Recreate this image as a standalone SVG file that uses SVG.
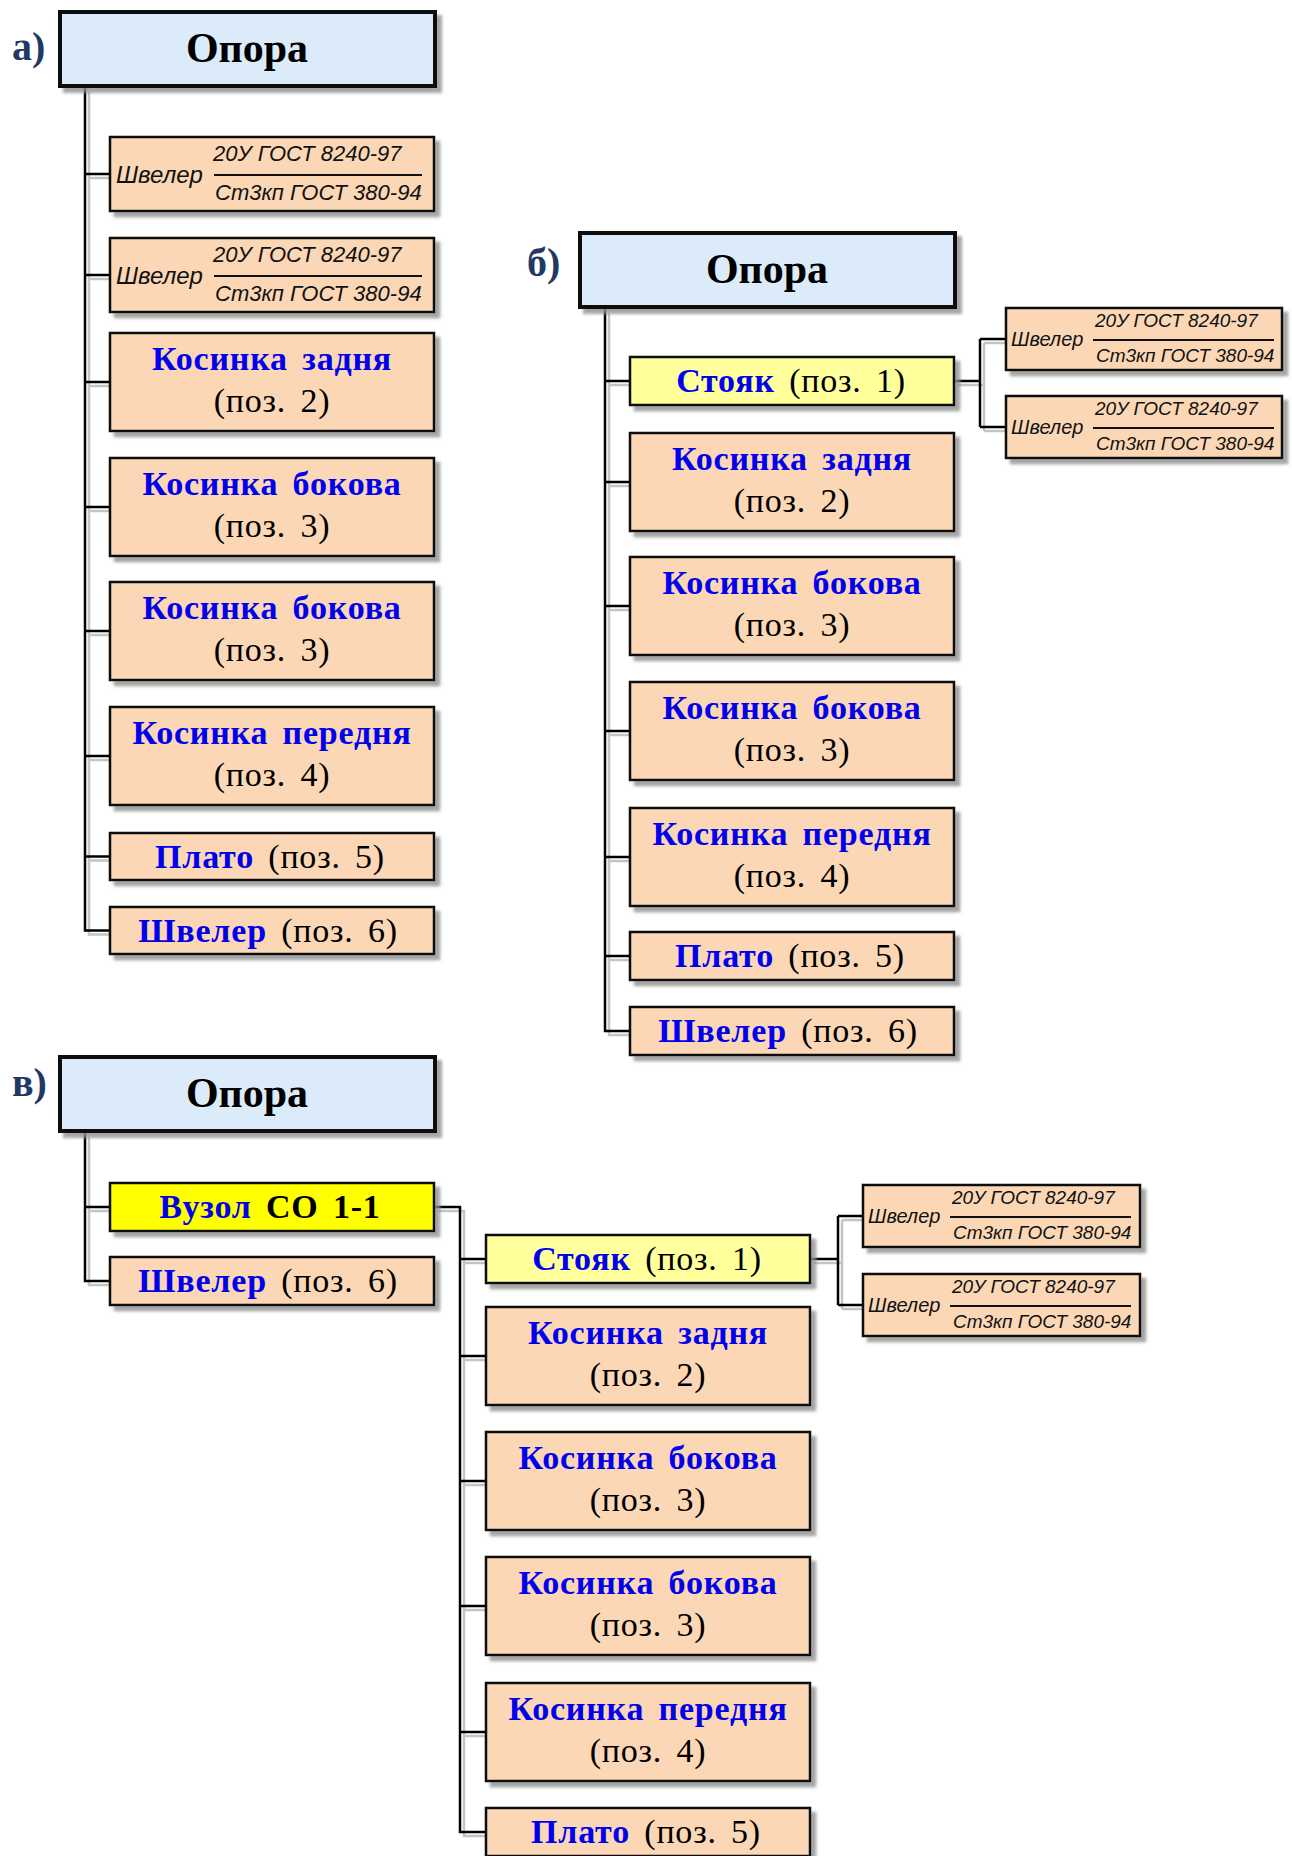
<svg xmlns="http://www.w3.org/2000/svg" xmlns:xlink="http://www.w3.org/1999/xlink" width="1292" height="1856" viewBox="0 0 1292 1856">
  <style>
    .box { stroke: #111; stroke-width: 2.5; filter: url(#sh); }
    .root { fill: #DCEBFA; stroke-width: 4; }
    .peach { fill: #FBD7B5; }
    .lyel { fill: #FFFF9C; }
    .yel { fill: #FFFF00; }
    .ttl { font-family: "Liberation Serif", "Times New Roman", serif; font-weight: bold; font-size: 42px; fill: #000; text-anchor: middle; }
    .lbl { font-family: "Liberation Serif", "Times New Roman", serif; font-weight: bold; font-size: 40px; fill: #1F3864; }
    .nm { font-family: "Liberation Serif", "Times New Roman", serif; font-size: 34px; fill: #000; text-anchor: middle; letter-spacing: 0.8px; word-spacing: 5px; }
    .b { font-weight: bold; fill: #0000EE; }
    .bk { font-weight: bold; fill: #000; }
    .fr { font-family: "Liberation Sans", Arial, sans-serif; font-style: italic; font-size: 22px; fill: #111; }
    .frw { font-size: 24px; }
    .fs { font-family: "Liberation Sans", Arial, sans-serif; font-style: italic; font-size: 19px; fill: #111; }
    .fsw { font-size: 20px; }
    .bar { stroke: #111; stroke-width: 2; }
    .wire { fill: none; stroke-width: 2.5; stroke-linejoin: miter; }
  </style>
  <defs>
    <filter id="sh" x="-5%" y="-10%" width="115%" height="140%">
      <feGaussianBlur in="SourceAlpha" stdDeviation="1.5"/>
      <feOffset dx="5" dy="5" result="off"/>
      <feFlood flood-color="#8f8f8f" flood-opacity="0.8"/>
      <feComposite in2="off" operator="in"/>
      <feMerge><feMergeNode/><feMergeNode in="SourceGraphic"/></feMerge>
    </filter>
    <g id="wires">
      <!-- tree a -->
      <path d="M85,88 V930.5 H110 M85,174 H110 M85,275 H110 M85,382 H110 M85,507 H110 M85,631 H110 M85,756 H110 M85,856.5 H110"/>
      <!-- tree b -->
      <path d="M605,309 V1031 H630 M605,381 H630 M605,482 H630 M605,606 H630 M605,731 H630 M605,857 H630 M605,956 H630"/>
      <path d="M954,381 H980 M980,339 V427 M980,339 H1006 M980,427 H1006"/>
      <!-- tree c -->
      <path d="M85,1133 V1281 H110 M85,1207 H110"/>
      <path d="M434,1207 H460 V1832 H486 M460,1259 H486 M460,1356 H486 M460,1481 H486 M460,1606 H486 M460,1732 H486"/>
      <path d="M810,1259 H838 M838,1216 V1305 M838,1216 H863 M838,1305 H863"/>
    </g>
  </defs>

  <rect width="1292" height="1856" fill="#fff"/>

  <g id="connectors">
    <use xlink:href="#wires" class="wire" stroke="#c4c4c4" transform="translate(4,4)"/>
    <use xlink:href="#wires" class="wire" stroke="#000"/>
  </g>

  <!-- captions -->
  <text class="lbl" x="12" y="60">а)</text>
  <text class="lbl" x="527" y="276">б)</text>
  <text class="lbl" x="12" y="1096">в)</text>

  <!-- ===== tree a ===== -->
  <g id="a-root">
    <rect class="box root" x="60" y="12" width="375" height="74"/>
    <text class="ttl" x="247" y="62">Опора</text>
  </g>
  <g id="a-shveler-1">
    <rect class="box peach" x="110" y="137" width="324" height="74"/>
    <text class="fr frw" x="116" y="183">Швелер</text>
    <text class="fr" x="213" y="161">20У ГОСТ 8240-97</text>
    <line class="bar" x1="214" y1="175" x2="422" y2="175"/>
    <text class="fr" x="215" y="200">Ст3кп ГОСТ 380-94</text>
  </g>
  <g id="a-shveler-2">
    <rect class="box peach" x="110" y="238" width="324" height="74"/>
    <text class="fr frw" x="116" y="284">Швелер</text>
    <text class="fr" x="213" y="262">20У ГОСТ 8240-97</text>
    <line class="bar" x1="214" y1="276" x2="422" y2="276"/>
    <text class="fr" x="215" y="301">Ст3кп ГОСТ 380-94</text>
  </g>
  <g id="a-kosynka-zadnia">
    <rect class="box peach" x="110" y="333" width="324" height="98"/>
    <text class="nm" x="272" y="370"><tspan class="b">Косинка задня</tspan></text>
    <text class="nm" x="272" y="412">(поз. 2)</text>
  </g>
  <g id="a-kosynka-bokova-1">
    <rect class="box peach" x="110" y="458" width="324" height="98"/>
    <text class="nm" x="272" y="495"><tspan class="b">Косинка бокова</tspan></text>
    <text class="nm" x="272" y="537">(поз. 3)</text>
  </g>
  <g id="a-kosynka-bokova-2">
    <rect class="box peach" x="110" y="582" width="324" height="98"/>
    <text class="nm" x="272" y="619"><tspan class="b">Косинка бокова</tspan></text>
    <text class="nm" x="272" y="661">(поз. 3)</text>
  </g>
  <g id="a-kosynka-perednia">
    <rect class="box peach" x="110" y="707" width="324" height="98"/>
    <text class="nm" x="272" y="744"><tspan class="b">Косинка передня</tspan></text>
    <text class="nm" x="272" y="786">(поз. 4)</text>
  </g>
  <g id="a-plato">
    <rect class="box peach" x="110" y="833" width="324" height="47"/>
    <text class="nm" x="270" y="868"><tspan class="b">Плато</tspan> (поз. 5)</text>
  </g>
  <g id="a-shveler-6">
    <rect class="box peach" x="110" y="907" width="324" height="47"/>
    <text class="nm" x="268" y="942"><tspan class="b">Швелер</tspan> (поз. 6)</text>
  </g>

  <!-- ===== tree b ===== -->
  <g id="b-root">
    <rect class="box root" x="580" y="233" width="375" height="74"/>
    <text class="ttl" x="767" y="283">Опора</text>
  </g>
  <g id="b-stoiak">
    <rect class="box lyel" x="630" y="357" width="324" height="48"/>
    <text class="nm" x="791" y="392"><tspan class="b">Стояк</tspan> (поз. 1)</text>
  </g>
  <g id="b-shveler-1">
    <rect class="box peach" x="1006" y="308" width="276" height="62"/>
    <text class="fs fsw" x="1011" y="346">Швелер</text>
    <text class="fs" x="1095" y="327">20У ГОСТ 8240-97</text>
    <line class="bar" x1="1093" y1="340" x2="1274" y2="340"/>
    <text class="fs" x="1096" y="362">Ст3кп ГОСТ 380-94</text>
  </g>
  <g id="b-shveler-2">
    <rect class="box peach" x="1006" y="396" width="276" height="62"/>
    <text class="fs fsw" x="1011" y="434">Швелер</text>
    <text class="fs" x="1095" y="415">20У ГОСТ 8240-97</text>
    <line class="bar" x1="1093" y1="428" x2="1274" y2="428"/>
    <text class="fs" x="1096" y="450">Ст3кп ГОСТ 380-94</text>
  </g>
  <g id="b-kosynka-zadnia">
    <rect class="box peach" x="630" y="433" width="324" height="98"/>
    <text class="nm" x="792" y="470"><tspan class="b">Косинка задня</tspan></text>
    <text class="nm" x="792" y="512">(поз. 2)</text>
  </g>
  <g id="b-kosynka-bokova-1">
    <rect class="box peach" x="630" y="557" width="324" height="98"/>
    <text class="nm" x="792" y="594"><tspan class="b">Косинка бокова</tspan></text>
    <text class="nm" x="792" y="636">(поз. 3)</text>
  </g>
  <g id="b-kosynka-bokova-2">
    <rect class="box peach" x="630" y="682" width="324" height="98"/>
    <text class="nm" x="792" y="719"><tspan class="b">Косинка бокова</tspan></text>
    <text class="nm" x="792" y="761">(поз. 3)</text>
  </g>
  <g id="b-kosynka-perednia">
    <rect class="box peach" x="630" y="808" width="324" height="98"/>
    <text class="nm" x="792" y="845"><tspan class="b">Косинка передня</tspan></text>
    <text class="nm" x="792" y="887">(поз. 4)</text>
  </g>
  <g id="b-plato">
    <rect class="box peach" x="630" y="932" width="324" height="48"/>
    <text class="nm" x="790" y="967"><tspan class="b">Плато</tspan> (поз. 5)</text>
  </g>
  <g id="b-shveler-6">
    <rect class="box peach" x="630" y="1007" width="324" height="48"/>
    <text class="nm" x="788" y="1042"><tspan class="b">Швелер</tspan> (поз. 6)</text>
  </g>

  <!-- ===== tree c ===== -->
  <g id="c-root">
    <rect class="box root" x="60" y="1057" width="375" height="74"/>
    <text class="ttl" x="247" y="1107">Опора</text>
  </g>
  <g id="c-vuzol">
    <rect class="box yel" x="110" y="1183" width="324" height="48"/>
    <text class="nm" x="270" y="1218"><tspan class="b">Вузол</tspan> <tspan class="bk">СО 1-1</tspan></text>
  </g>
  <g id="c-shveler-6">
    <rect class="box peach" x="110" y="1257" width="324" height="48"/>
    <text class="nm" x="268" y="1292"><tspan class="b">Швелер</tspan> (поз. 6)</text>
  </g>
  <g id="c-stoiak">
    <rect class="box lyel" x="486" y="1235" width="324" height="48"/>
    <text class="nm" x="647" y="1270"><tspan class="b">Стояк</tspan> (поз. 1)</text>
  </g>
  <g id="c-shveler-1">
    <rect class="box peach" x="863" y="1185" width="277" height="62"/>
    <text class="fs fsw" x="868" y="1223">Швелер</text>
    <text class="fs" x="952" y="1204">20У ГОСТ 8240-97</text>
    <line class="bar" x1="950" y1="1217" x2="1131" y2="1217"/>
    <text class="fs" x="953" y="1239">Ст3кп ГОСТ 380-94</text>
  </g>
  <g id="c-shveler-2">
    <rect class="box peach" x="863" y="1274" width="277" height="62"/>
    <text class="fs fsw" x="868" y="1312">Швелер</text>
    <text class="fs" x="952" y="1293">20У ГОСТ 8240-97</text>
    <line class="bar" x1="950" y1="1306" x2="1131" y2="1306"/>
    <text class="fs" x="953" y="1328">Ст3кп ГОСТ 380-94</text>
  </g>
  <g id="c-kosynka-zadnia">
    <rect class="box peach" x="486" y="1307" width="324" height="98"/>
    <text class="nm" x="648" y="1344"><tspan class="b">Косинка задня</tspan></text>
    <text class="nm" x="648" y="1386">(поз. 2)</text>
  </g>
  <g id="c-kosynka-bokova-1">
    <rect class="box peach" x="486" y="1432" width="324" height="98"/>
    <text class="nm" x="648" y="1469"><tspan class="b">Косинка бокова</tspan></text>
    <text class="nm" x="648" y="1511">(поз. 3)</text>
  </g>
  <g id="c-kosynka-bokova-2">
    <rect class="box peach" x="486" y="1557" width="324" height="98"/>
    <text class="nm" x="648" y="1594"><tspan class="b">Косинка бокова</tspan></text>
    <text class="nm" x="648" y="1636">(поз. 3)</text>
  </g>
  <g id="c-kosynka-perednia">
    <rect class="box peach" x="486" y="1683" width="324" height="98"/>
    <text class="nm" x="648" y="1720"><tspan class="b">Косинка передня</tspan></text>
    <text class="nm" x="648" y="1762">(поз. 4)</text>
  </g>
  <g id="c-plato">
    <rect class="box peach" x="486" y="1808" width="324" height="48"/>
    <text class="nm" x="646" y="1843"><tspan class="b">Плато</tspan> (поз. 5)</text>
  </g>
</svg>
